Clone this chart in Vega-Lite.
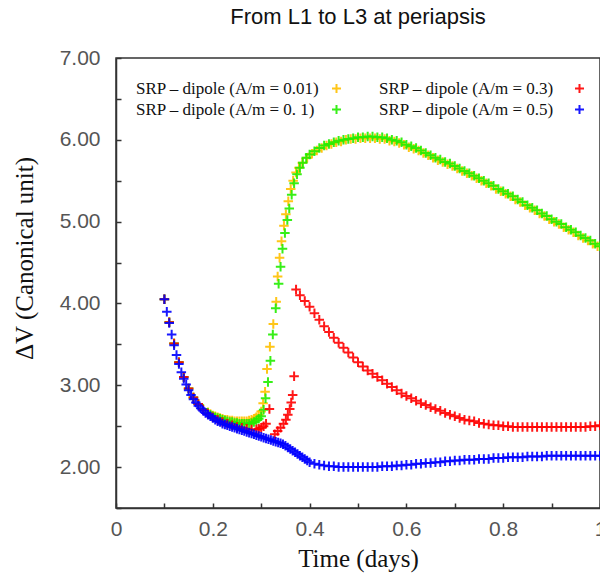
{
"$schema": "https://vega.github.io/schema/vega-lite/v6.json",
"width": 484, "height": 450,
"autosize": {"type": "none"},
"padding": {"left": 116, "top": 58, "right": 0, "bottom": 68},
"background": "white",
"title": {"text": "From L1 to L3 at periapsis", "font": "Liberation Sans", "fontSize": 22, "fontWeight": "normal", "color": "#111111", "offset": 18, "anchor": "middle"},
"config": {"view": {"stroke": "#333333", "strokeWidth": 1.5}},
"datasets": {
"pts": [
{"s":"0.01","t":0.10,"v":4.05},{"s":"0.01","t":0.11,"v":3.77},{"s":"0.01","t":0.12,"v":3.51},{"s":"0.01","t":0.13,"v":3.28},{"s":"0.01","t":0.14,"v":3.10},{"s":"0.01","t":0.15,"v":2.96},{"s":"0.01","t":0.16,"v":2.85},{"s":"0.01","t":0.17,"v":2.77},{"s":"0.01","t":0.18,"v":2.71},{"s":"0.01","t":0.19,"v":2.67},{"s":"0.01","t":0.195,"v":2.65},{"s":"0.01","t":0.2,"v":2.63},{"s":"0.01","t":0.205,"v":2.62},{"s":"0.01","t":0.21,"v":2.61},{"s":"0.01","t":0.215,"v":2.6},{"s":"0.01","t":0.22,"v":2.59},{"s":"0.01","t":0.225,"v":2.58},{"s":"0.01","t":0.23,"v":2.58},{"s":"0.01","t":0.235,"v":2.57},{"s":"0.01","t":0.24,"v":2.57},{"s":"0.01","t":0.245,"v":2.56},{"s":"0.01","t":0.25,"v":2.56},{"s":"0.01","t":0.255,"v":2.56},{"s":"0.01","t":0.26,"v":2.56},{"s":"0.01","t":0.265,"v":2.56},{"s":"0.01","t":0.27,"v":2.56},{"s":"0.01","t":0.275,"v":2.57},{"s":"0.01","t":0.28,"v":2.58},{"s":"0.01","t":0.285,"v":2.59},{"s":"0.01","t":0.29,"v":2.61},{"s":"0.01","t":0.295,"v":2.64},{"s":"0.01","t":0.3,"v":2.68},{"s":"0.01","t":0.304,"v":2.78},{"s":"0.01","t":0.308,"v":2.92},{"s":"0.01","t":0.312,"v":3.2},{"s":"0.01","t":0.318,"v":3.47},{"s":"0.01","t":0.325,"v":3.75},{"s":"0.01","t":0.331,"v":4.02},{"s":"0.01","t":0.334,"v":4.33},{"s":"0.01","t":0.338,"v":4.56},{"s":"0.01","t":0.342,"v":4.76},{"s":"0.01","t":0.347,"v":4.95},{"s":"0.01","t":0.351,"v":5.09},{"s":"0.01","t":0.356,"v":5.25},{"s":"0.01","t":0.361,"v":5.4},{"s":"0.01","t":0.366,"v":5.5},{"s":"0.01","t":0.372,"v":5.6},{"s":"0.01","t":0.378,"v":5.66},{"s":"0.01","t":0.385,"v":5.72},{"s":"0.01","t":0.395,"v":5.78},{"s":"0.01","t":0.405,"v":5.83},{"s":"0.01","t":0.415,"v":5.87},{"s":"0.01","t":0.425,"v":5.9},{"s":"0.01","t":0.435,"v":5.93},{"s":"0.01","t":0.445,"v":5.95},{"s":"0.01","t":0.455,"v":5.97},{"s":"0.01","t":0.465,"v":5.98},{"s":"0.01","t":0.475,"v":6.0},{"s":"0.01","t":0.485,"v":6.01},{"s":"0.01","t":0.495,"v":6.01},{"s":"0.01","t":0.505,"v":6.02},{"s":"0.01","t":0.515,"v":6.02},{"s":"0.01","t":0.525,"v":6.02},{"s":"0.01","t":0.535,"v":6.02},{"s":"0.01","t":0.545,"v":6.01},{"s":"0.01","t":0.555,"v":6.01},{"s":"0.01","t":0.565,"v":5.99},{"s":"0.01","t":0.575,"v":5.98},{"s":"0.01","t":0.585,"v":5.96},{"s":"0.01","t":0.595,"v":5.94},{"s":"0.01","t":0.605,"v":5.91},{"s":"0.01","t":0.615,"v":5.89},{"s":"0.01","t":0.625,"v":5.87},{"s":"0.01","t":0.635,"v":5.84},{"s":"0.01","t":0.645,"v":5.81},{"s":"0.01","t":0.655,"v":5.78},{"s":"0.01","t":0.665,"v":5.75},{"s":"0.01","t":0.675,"v":5.73},{"s":"0.01","t":0.685,"v":5.7},{"s":"0.01","t":0.695,"v":5.68},{"s":"0.01","t":0.705,"v":5.65},{"s":"0.01","t":0.715,"v":5.62},{"s":"0.01","t":0.725,"v":5.59},{"s":"0.01","t":0.735,"v":5.56},{"s":"0.01","t":0.745,"v":5.53},{"s":"0.01","t":0.755,"v":5.5},{"s":"0.01","t":0.765,"v":5.47},{"s":"0.01","t":0.775,"v":5.44},{"s":"0.01","t":0.785,"v":5.4},{"s":"0.01","t":0.795,"v":5.37},{"s":"0.01","t":0.805,"v":5.34},{"s":"0.01","t":0.815,"v":5.31},{"s":"0.01","t":0.825,"v":5.27},{"s":"0.01","t":0.835,"v":5.24},{"s":"0.01","t":0.845,"v":5.2},{"s":"0.01","t":0.855,"v":5.17},{"s":"0.01","t":0.865,"v":5.14},{"s":"0.01","t":0.875,"v":5.1},{"s":"0.01","t":0.885,"v":5.07},{"s":"0.01","t":0.895,"v":5.03},{"s":"0.01","t":0.905,"v":5.0},{"s":"0.01","t":0.915,"v":4.97},{"s":"0.01","t":0.925,"v":4.93},{"s":"0.01","t":0.935,"v":4.9},{"s":"0.01","t":0.945,"v":4.87},{"s":"0.01","t":0.955,"v":4.83},{"s":"0.01","t":0.965,"v":4.8},{"s":"0.01","t":0.975,"v":4.77},{"s":"0.01","t":0.985,"v":4.73},{"s":"0.01","t":0.995,"v":4.7},
{"s":"0.1","t":0.10,"v":4.05},{"s":"0.1","t":0.11,"v":3.77},{"s":"0.1","t":0.12,"v":3.51},{"s":"0.1","t":0.13,"v":3.28},{"s":"0.1","t":0.14,"v":3.10},{"s":"0.1","t":0.15,"v":2.96},{"s":"0.1","t":0.16,"v":2.85},{"s":"0.1","t":0.17,"v":2.77},{"s":"0.1","t":0.18,"v":2.71},{"s":"0.1","t":0.19,"v":2.66},{"s":"0.1","t":0.195,"v":2.64},{"s":"0.1","t":0.2,"v":2.62},{"s":"0.1","t":0.205,"v":2.61},{"s":"0.1","t":0.21,"v":2.6},{"s":"0.1","t":0.215,"v":2.59},{"s":"0.1","t":0.22,"v":2.58},{"s":"0.1","t":0.225,"v":2.57},{"s":"0.1","t":0.23,"v":2.56},{"s":"0.1","t":0.235,"v":2.55},{"s":"0.1","t":0.24,"v":2.55},{"s":"0.1","t":0.245,"v":2.54},{"s":"0.1","t":0.25,"v":2.54},{"s":"0.1","t":0.255,"v":2.53},{"s":"0.1","t":0.26,"v":2.53},{"s":"0.1","t":0.265,"v":2.53},{"s":"0.1","t":0.27,"v":2.53},{"s":"0.1","t":0.275,"v":2.53},{"s":"0.1","t":0.28,"v":2.54},{"s":"0.1","t":0.285,"v":2.55},{"s":"0.1","t":0.29,"v":2.57},{"s":"0.1","t":0.295,"v":2.59},{"s":"0.1","t":0.3,"v":2.62},{"s":"0.1","t":0.305,"v":2.7},{"s":"0.1","t":0.309,"v":2.84},{"s":"0.1","t":0.314,"v":3.04},{"s":"0.1","t":0.319,"v":3.3},{"s":"0.1","t":0.324,"v":3.62},{"s":"0.1","t":0.33,"v":3.94},{"s":"0.1","t":0.336,"v":4.24},{"s":"0.1","t":0.34,"v":4.45},{"s":"0.1","t":0.344,"v":4.67},{"s":"0.1","t":0.349,"v":4.86},{"s":"0.1","t":0.354,"v":5.02},{"s":"0.1","t":0.358,"v":5.16},{"s":"0.1","t":0.363,"v":5.33},{"s":"0.1","t":0.368,"v":5.47},{"s":"0.1","t":0.374,"v":5.58},{"s":"0.1","t":0.38,"v":5.66},{"s":"0.1","t":0.386,"v":5.72},{"s":"0.1","t":0.393,"v":5.78},{"s":"0.1","t":0.4,"v":5.82},{"s":"0.1","t":0.41,"v":5.86},{"s":"0.1","t":0.42,"v":5.9},{"s":"0.1","t":0.43,"v":5.93},{"s":"0.1","t":0.44,"v":5.95},{"s":"0.1","t":0.45,"v":5.97},{"s":"0.1","t":0.46,"v":5.99},{"s":"0.1","t":0.47,"v":6.0},{"s":"0.1","t":0.48,"v":6.01},{"s":"0.1","t":0.49,"v":6.02},{"s":"0.1","t":0.5,"v":6.03},{"s":"0.1","t":0.51,"v":6.03},{"s":"0.1","t":0.52,"v":6.04},{"s":"0.1","t":0.53,"v":6.04},{"s":"0.1","t":0.54,"v":6.03},{"s":"0.1","t":0.55,"v":6.03},{"s":"0.1","t":0.56,"v":6.02},{"s":"0.1","t":0.57,"v":6.0},{"s":"0.1","t":0.58,"v":5.99},{"s":"0.1","t":0.59,"v":5.97},{"s":"0.1","t":0.6,"v":5.94},{"s":"0.1","t":0.61,"v":5.92},{"s":"0.1","t":0.62,"v":5.9},{"s":"0.1","t":0.63,"v":5.87},{"s":"0.1","t":0.64,"v":5.84},{"s":"0.1","t":0.65,"v":5.81},{"s":"0.1","t":0.66,"v":5.78},{"s":"0.1","t":0.67,"v":5.76},{"s":"0.1","t":0.68,"v":5.73},{"s":"0.1","t":0.69,"v":5.71},{"s":"0.1","t":0.7,"v":5.68},{"s":"0.1","t":0.71,"v":5.65},{"s":"0.1","t":0.72,"v":5.62},{"s":"0.1","t":0.73,"v":5.59},{"s":"0.1","t":0.74,"v":5.56},{"s":"0.1","t":0.75,"v":5.53},{"s":"0.1","t":0.76,"v":5.5},{"s":"0.1","t":0.77,"v":5.47},{"s":"0.1","t":0.78,"v":5.44},{"s":"0.1","t":0.79,"v":5.4},{"s":"0.1","t":0.8,"v":5.37},{"s":"0.1","t":0.81,"v":5.34},{"s":"0.1","t":0.82,"v":5.31},{"s":"0.1","t":0.83,"v":5.27},{"s":"0.1","t":0.84,"v":5.24},{"s":"0.1","t":0.85,"v":5.2},{"s":"0.1","t":0.86,"v":5.17},{"s":"0.1","t":0.87,"v":5.14},{"s":"0.1","t":0.88,"v":5.1},{"s":"0.1","t":0.89,"v":5.07},{"s":"0.1","t":0.9,"v":5.03},{"s":"0.1","t":0.91,"v":5.0},{"s":"0.1","t":0.92,"v":4.97},{"s":"0.1","t":0.93,"v":4.93},{"s":"0.1","t":0.94,"v":4.9},{"s":"0.1","t":0.95,"v":4.87},{"s":"0.1","t":0.96,"v":4.83},{"s":"0.1","t":0.97,"v":4.8},{"s":"0.1","t":0.98,"v":4.77},{"s":"0.1","t":0.99,"v":4.73},{"s":"0.1","t":1.0,"v":4.7},
{"s":"0.3","t":0.10,"v":4.05},{"s":"0.3","t":0.11,"v":3.77},{"s":"0.3","t":0.12,"v":3.51},{"s":"0.3","t":0.13,"v":3.28},{"s":"0.3","t":0.14,"v":3.10},{"s":"0.3","t":0.15,"v":2.96},{"s":"0.3","t":0.16,"v":2.85},{"s":"0.3","t":0.17,"v":2.77},{"s":"0.3","t":0.18,"v":2.7},{"s":"0.3","t":0.19,"v":2.65},{"s":"0.3","t":0.2,"v":2.61},{"s":"0.3","t":0.21,"v":2.58},{"s":"0.3","t":0.22,"v":2.55},{"s":"0.3","t":0.23,"v":2.53},{"s":"0.3","t":0.24,"v":2.51},{"s":"0.3","t":0.25,"v":2.49},{"s":"0.3","t":0.26,"v":2.48},{"s":"0.3","t":0.27,"v":2.47},{"s":"0.3","t":0.28,"v":2.46},{"s":"0.3","t":0.29,"v":2.46},{"s":"0.3","t":0.295,"v":2.47},{"s":"0.3","t":0.3,"v":2.48},{"s":"0.3","t":0.305,"v":2.5},{"s":"0.3","t":0.31,"v":2.53},{"s":"0.3","t":0.317,"v":2.71},{"s":"0.3","t":0.328,"v":2.4},{"s":"0.3","t":0.334,"v":2.44},{"s":"0.3","t":0.34,"v":2.48},{"s":"0.3","t":0.346,"v":2.53},{"s":"0.3","t":0.351,"v":2.58},{"s":"0.3","t":0.355,"v":2.64},{"s":"0.3","t":0.359,"v":2.71},{"s":"0.3","t":0.362,"v":2.79},{"s":"0.3","t":0.365,"v":2.88},{"s":"0.3","t":0.368,"v":3.11},{"s":"0.3","t":0.372,"v":4.17},{"s":"0.3","t":0.38,"v":4.1},{"s":"0.3","t":0.39,"v":4.03},{"s":"0.3","t":0.4,"v":3.96},{"s":"0.3","t":0.41,"v":3.88},{"s":"0.3","t":0.42,"v":3.8},{"s":"0.3","t":0.43,"v":3.72},{"s":"0.3","t":0.44,"v":3.65},{"s":"0.3","t":0.45,"v":3.58},{"s":"0.3","t":0.46,"v":3.52},{"s":"0.3","t":0.47,"v":3.46},{"s":"0.3","t":0.48,"v":3.4},{"s":"0.3","t":0.49,"v":3.34},{"s":"0.3","t":0.5,"v":3.28},{"s":"0.3","t":0.51,"v":3.23},{"s":"0.3","t":0.52,"v":3.18},{"s":"0.3","t":0.53,"v":3.14},{"s":"0.3","t":0.54,"v":3.1},{"s":"0.3","t":0.55,"v":3.06},{"s":"0.3","t":0.56,"v":3.02},{"s":"0.3","t":0.57,"v":2.98},{"s":"0.3","t":0.58,"v":2.94},{"s":"0.3","t":0.59,"v":2.9},{"s":"0.3","t":0.6,"v":2.87},{"s":"0.3","t":0.61,"v":2.84},{"s":"0.3","t":0.62,"v":2.81},{"s":"0.3","t":0.63,"v":2.78},{"s":"0.3","t":0.64,"v":2.76},{"s":"0.3","t":0.65,"v":2.73},{"s":"0.3","t":0.66,"v":2.71},{"s":"0.3","t":0.67,"v":2.69},{"s":"0.3","t":0.68,"v":2.66},{"s":"0.3","t":0.69,"v":2.64},{"s":"0.3","t":0.7,"v":2.62},{"s":"0.3","t":0.71,"v":2.6},{"s":"0.3","t":0.72,"v":2.58},{"s":"0.3","t":0.73,"v":2.57},{"s":"0.3","t":0.74,"v":2.56},{"s":"0.3","t":0.75,"v":2.54},{"s":"0.3","t":0.76,"v":2.53},{"s":"0.3","t":0.77,"v":2.52},{"s":"0.3","t":0.78,"v":2.51},{"s":"0.3","t":0.79,"v":2.51},{"s":"0.3","t":0.8,"v":2.5},{"s":"0.3","t":0.81,"v":2.5},{"s":"0.3","t":0.82,"v":2.49},{"s":"0.3","t":0.83,"v":2.49},{"s":"0.3","t":0.84,"v":2.49},{"s":"0.3","t":0.85,"v":2.49},{"s":"0.3","t":0.86,"v":2.49},{"s":"0.3","t":0.87,"v":2.49},{"s":"0.3","t":0.88,"v":2.49},{"s":"0.3","t":0.89,"v":2.49},{"s":"0.3","t":0.9,"v":2.49},{"s":"0.3","t":0.91,"v":2.49},{"s":"0.3","t":0.92,"v":2.49},{"s":"0.3","t":0.93,"v":2.49},{"s":"0.3","t":0.94,"v":2.49},{"s":"0.3","t":0.95,"v":2.49},{"s":"0.3","t":0.96,"v":2.49},{"s":"0.3","t":0.97,"v":2.49},{"s":"0.3","t":0.98,"v":2.5},{"s":"0.3","t":0.99,"v":2.5},{"s":"0.3","t":1.0,"v":2.51},
{"s":"0.5","t":0.1,"v":4.05},{"s":"0.5","t":0.105,"v":3.9},{"s":"0.5","t":0.11,"v":3.76},{"s":"0.5","t":0.115,"v":3.62},{"s":"0.5","t":0.12,"v":3.49},{"s":"0.5","t":0.125,"v":3.37},{"s":"0.5","t":0.13,"v":3.26},{"s":"0.5","t":0.135,"v":3.16},{"s":"0.5","t":0.14,"v":3.08},{"s":"0.5","t":0.145,"v":3.01},{"s":"0.5","t":0.15,"v":2.94},{"s":"0.5","t":0.155,"v":2.88},{"s":"0.5","t":0.16,"v":2.83},{"s":"0.5","t":0.165,"v":2.79},{"s":"0.5","t":0.17,"v":2.75},{"s":"0.5","t":0.175,"v":2.72},{"s":"0.5","t":0.18,"v":2.69},{"s":"0.5","t":0.185,"v":2.66},{"s":"0.5","t":0.19,"v":2.64},{"s":"0.5","t":0.195,"v":2.62},{"s":"0.5","t":0.2,"v":2.6},{"s":"0.5","t":0.205,"v":2.58},{"s":"0.5","t":0.21,"v":2.56},{"s":"0.5","t":0.215,"v":2.55},{"s":"0.5","t":0.22,"v":2.53},{"s":"0.5","t":0.225,"v":2.52},{"s":"0.5","t":0.23,"v":2.51},{"s":"0.5","t":0.235,"v":2.5},{"s":"0.5","t":0.24,"v":2.49},{"s":"0.5","t":0.245,"v":2.48},{"s":"0.5","t":0.25,"v":2.47},{"s":"0.5","t":0.255,"v":2.46},{"s":"0.5","t":0.26,"v":2.45},{"s":"0.5","t":0.265,"v":2.44},{"s":"0.5","t":0.27,"v":2.43},{"s":"0.5","t":0.275,"v":2.42},{"s":"0.5","t":0.28,"v":2.41},{"s":"0.5","t":0.285,"v":2.4},{"s":"0.5","t":0.29,"v":2.39},{"s":"0.5","t":0.295,"v":2.38},{"s":"0.5","t":0.3,"v":2.37},{"s":"0.5","t":0.305,"v":2.36},{"s":"0.5","t":0.31,"v":2.35},{"s":"0.5","t":0.315,"v":2.34},{"s":"0.5","t":0.32,"v":2.33},{"s":"0.5","t":0.325,"v":2.32},{"s":"0.5","t":0.33,"v":2.31},{"s":"0.5","t":0.335,"v":2.3},{"s":"0.5","t":0.34,"v":2.29},{"s":"0.5","t":0.345,"v":2.28},{"s":"0.5","t":0.35,"v":2.26},{"s":"0.5","t":0.355,"v":2.24},{"s":"0.5","t":0.36,"v":2.22},{"s":"0.5","t":0.365,"v":2.2},{"s":"0.5","t":0.37,"v":2.18},{"s":"0.5","t":0.375,"v":2.16},{"s":"0.5","t":0.38,"v":2.14},{"s":"0.5","t":0.385,"v":2.12},{"s":"0.5","t":0.39,"v":2.1},{"s":"0.5","t":0.395,"v":2.08},{"s":"0.5","t":0.4,"v":2.06},{"s":"0.5","t":0.41,"v":2.04},{"s":"0.5","t":0.42,"v":2.03},{"s":"0.5","t":0.43,"v":2.02},{"s":"0.5","t":0.44,"v":2.01},{"s":"0.5","t":0.45,"v":2.01},{"s":"0.5","t":0.46,"v":2.0},{"s":"0.5","t":0.47,"v":2.0},{"s":"0.5","t":0.48,"v":2.0},{"s":"0.5","t":0.49,"v":2.0},{"s":"0.5","t":0.5,"v":2.0},{"s":"0.5","t":0.51,"v":2.0},{"s":"0.5","t":0.52,"v":2.0},{"s":"0.5","t":0.53,"v":2.0},{"s":"0.5","t":0.54,"v":2.0},{"s":"0.5","t":0.55,"v":2.01},{"s":"0.5","t":0.56,"v":2.01},{"s":"0.5","t":0.57,"v":2.01},{"s":"0.5","t":0.58,"v":2.02},{"s":"0.5","t":0.59,"v":2.02},{"s":"0.5","t":0.6,"v":2.03},{"s":"0.5","t":0.61,"v":2.03},{"s":"0.5","t":0.62,"v":2.04},{"s":"0.5","t":0.63,"v":2.04},{"s":"0.5","t":0.64,"v":2.05},{"s":"0.5","t":0.65,"v":2.05},{"s":"0.5","t":0.66,"v":2.06},{"s":"0.5","t":0.67,"v":2.06},{"s":"0.5","t":0.68,"v":2.07},{"s":"0.5","t":0.69,"v":2.07},{"s":"0.5","t":0.7,"v":2.08},{"s":"0.5","t":0.71,"v":2.08},{"s":"0.5","t":0.72,"v":2.09},{"s":"0.5","t":0.73,"v":2.09},{"s":"0.5","t":0.74,"v":2.09},{"s":"0.5","t":0.75,"v":2.1},{"s":"0.5","t":0.76,"v":2.1},{"s":"0.5","t":0.77,"v":2.1},{"s":"0.5","t":0.78,"v":2.11},{"s":"0.5","t":0.79,"v":2.11},{"s":"0.5","t":0.8,"v":2.11},{"s":"0.5","t":0.81,"v":2.12},{"s":"0.5","t":0.82,"v":2.12},{"s":"0.5","t":0.83,"v":2.12},{"s":"0.5","t":0.84,"v":2.12},{"s":"0.5","t":0.85,"v":2.13},{"s":"0.5","t":0.86,"v":2.13},{"s":"0.5","t":0.87,"v":2.13},{"s":"0.5","t":0.88,"v":2.13},{"s":"0.5","t":0.89,"v":2.14},{"s":"0.5","t":0.9,"v":2.14},{"s":"0.5","t":0.91,"v":2.14},{"s":"0.5","t":0.92,"v":2.14},{"s":"0.5","t":0.93,"v":2.14},{"s":"0.5","t":0.94,"v":2.14},{"s":"0.5","t":0.95,"v":2.14},{"s":"0.5","t":0.96,"v":2.14},{"s":"0.5","t":0.97,"v":2.14},{"s":"0.5","t":0.98,"v":2.14},{"s":"0.5","t":0.99,"v":2.14},{"s":"0.5","t":1.0,"v":2.14}
]
},
"data": {"name": "pts"},
"mark": {"type": "point", "shape": "M-1,0H1M0,-1V1", "filled": false, "strokeWidth": 2, "size": 90, "opacity": 0.9, "clip": true},
"encoding": {
"x": {"field": "t", "type": "quantitative", "scale": {"domain": [0, 1], "nice": false, "zero": false},
  "axis": {"values": [0,0.1,0.2,0.3,0.4,0.5,0.6,0.7,0.8,0.9,1.0], "labelExpr": "round(datum.value*10)%2==0 ? format(datum.value,'.1~f') : ''", "grid": false, "domainColor": "#333333", "domainWidth": 1.5, "tickColor": "#333333", "tickSize": -5, "tickWidth": 1.5, "labelFont": "Liberation Sans", "labelFontSize": 21, "labelColor": "#555555", "labelPadding": 15, "labelFlush": false, "labelOverlap": false, "title": "Time (days)", "titleFont": "Liberation Serif", "titleFontSize": 25, "titleFontWeight": "normal", "titleColor": "#111111", "titlePadding": 7}},
"y": {"field": "v", "type": "quantitative", "scale": {"domain": [1.5, 7], "nice": false, "zero": false},
  "axis": {"values": [1.5,2,2.5,3,3.5,4,4.5,5,5.5,6,6.5,7], "labelExpr": "datum.value % 1 == 0 ? format(datum.value,'.2f') : ''", "grid": false, "domainColor": "#333333", "domainWidth": 1.5, "tickColor": "#333333", "tickSize": -5, "tickWidth": 1.5, "labelFont": "Liberation Sans", "labelFontSize": 21, "labelColor": "#555555", "labelPadding": 21, "labelFlush": false, "labelOverlap": false, "title": "ΔV (Canonical unit)", "titleFont": "Liberation Serif", "titleFontSize": 25, "titleFontWeight": "normal", "titleColor": "#111111", "titlePadding": 22, "titleY": 200}},
"color": {"field": "s", "type": "nominal", "scale": {"domain": ["0.01","0.3","0.1","0.5"], "range": ["#FFC000","#FF0000","#22EE00","#0000FF"]},
  "legend": {"orient": "none", "legendX": 8, "legendY": 22, "columns": 2, "title": null, "direction": "horizontal", "labelExpr": "'SRP – dipole (A/m = ' + (datum.label == '0.1' ? '0. 1' : datum.label) + ')'", "labelFont": "Liberation Serif", "labelFontSize": 17, "labelColor": "#111111", "labelLimit": 0, "symbolType": "M-1,0H1M0,-1V1", "symbolSize": 81, "symbolStrokeWidth": 2, "symbolOffset": 204, "labelOffset": -209, "columnPadding": 22, "rowPadding": 3}}
}
}
